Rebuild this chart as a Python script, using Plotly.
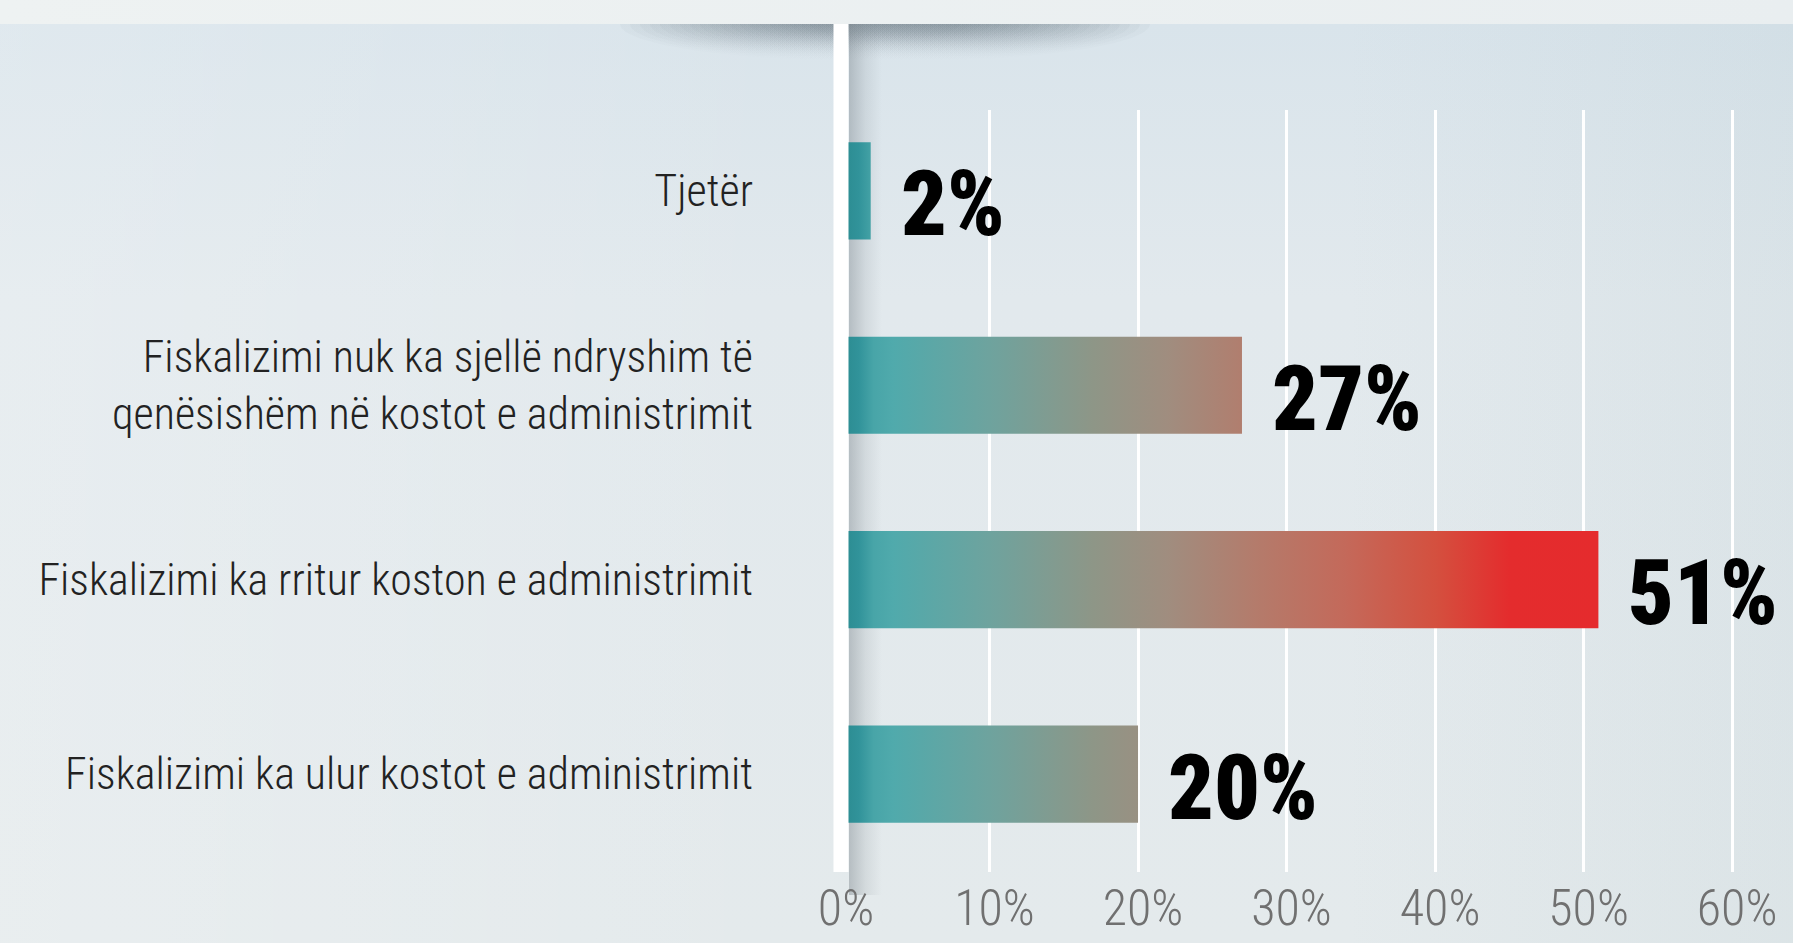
import numpy as np
import plotly.graph_objects as go

# ---- data ----
categories = [
    "Fiskalizimi ka ulur kostot e administrimit",
    "Fiskalizimi ka rritur koston e administrimit",
    "Fiskalizimi nuk ka sjellë ndryshim të<br>qenësishëm në kostot e administrimit",
    "Tjetër",
]
values = [20, 51, 27, 2]
value_labels = ["20%", "51%", "27%", "2%"]
tick_vals = [0, 10, 20, 30, 40, 50, 60]
tick_text = ["0%", "10%", "20%", "30%", "40%", "50%", "60%"]

# colour ramp along the value axis (absolute position, in %)
grad_stops = [0, 1.2, 2.2, 3.5, 10, 17, 22, 28, 34, 40, 45, 51]
grad_colors = ["#2a8a8f", "#31939a", "#48a5a8", "#50aaac", "#6ea39e", "#8e9687",
               "#a08d7f", "#b47b6b", "#c4695a", "#d4503f", "#e42c2d", "#e52b2d"]
grad_max = max(values)
colorscale = [[s / grad_max, c] for s, c in zip(grad_stops, grad_colors)]

BAR_HALF = 0.25
W, H = 1793, 943
FONT_LIGHT = "Roboto Condensed, Open Sans Condensed, sans-serif"

fig = go.Figure()

# ---------- decorative background (subplot x/y, pixel space) ----------
def bg_poly(xs, ys, grad):
    fig.add_trace(go.Scatter(x=list(xs), y=list(ys), xaxis="x", yaxis="y",
                             mode="lines", line=dict(width=0), fill="toself",
                             fillgradient=grad, hoverinfo="skip", showlegend=False))

# base vertical wash
bg_poly([0, W, W, 0, 0], [24, 24, H, H, 24],
        dict(type="vertical", start=24, stop=H,
             colorscale=[[0, "#d9e4eb"], [0.3, "#e2e9ed"], [1, "#e4eaec"]]))
# horizontal tint: lighter left, slightly darker right
bg_poly([0, W, W, 0, 0], [24, 24, H, H, 24],
        dict(type="horizontal", start=0, stop=W,
             colorscale=[[0, "rgba(255,255,255,0.18)"], [0.45, "rgba(255,255,255,0)"],
                         [0.75, "rgba(160,185,192,0)"], [1, "rgba(160,185,192,0.12)"]]))
# top strip
bg_poly([0, W, W, 0, 0], [0, 0, 24, 24, 0],
        dict(type="horizontal", start=0, stop=W,
             colorscale=[[0, "#eef2f2"], [1, "#e9eef0"]]))
# soft shadow under the strip (stacked half-ellipses)
t = np.linspace(0, np.pi, 80)
n_layers = 20
for k in range(n_layers):
    a = 265 - k * 10
    b = 38 - k * 1.2
    xs = 885 + a * np.cos(t)
    ys = 24 + b * np.sin(t)
    bg_poly(xs, ys, dict(type="vertical", start=24, stop=24 + b,
                         colorscale=[[0, "rgba(100,114,124,0.05)"], [1, "rgba(100,114,124,0)"]]))
# shadow to the right of the zero line
bg_poly([849, 882, 882, 849, 849], [24, 24, 895, 895, 24],
        dict(type="horizontal", start=849, stop=882,
             colorscale=[[0, "rgba(118,128,135,0.42)"], [0.5, "rgba(118,128,135,0.15)"],
                         [1, "rgba(118,128,135,0)"]]))

# ---------- data bars (subplot x2/y2) ----------
for i, v in enumerate(values):
    fig.add_trace(go.Scatter(
        x=[0, v, v, 0, 0],
        y=[i - BAR_HALF, i - BAR_HALF, i + BAR_HALF, i + BAR_HALF, i - BAR_HALF],
        xaxis="x2", yaxis="y2",
        mode="lines", line=dict(width=0), fill="toself",
        fillgradient=dict(type="horizontal", colorscale=colorscale, start=0, stop=grad_max),
        hoverinfo="skip", showlegend=False,
    ))
    fig.add_annotation(
        x=v, y=i, xref="x2", yref="y2", text=value_labels[i], showarrow=False,
        xanchor="left", yanchor="middle", xshift=28, yshift=-14,
        font=dict(family="Roboto Condensed, Open Sans Condensed, sans-serif",
                  size=90, color="#000000", weight=900),
    )

# thick white zero line
fig.add_shape(type="line", xref="x2", yref="paper", x0=0, x1=0,
              y0=(H - 872) / H, y1=(H - 24) / H,
              line=dict(color="#ffffff", width=15), layer="above")

fig.update_layout(
    width=W, height=H, autosize=False,
    margin=dict(l=0, r=0, t=0, b=0, autoexpand=False),
    paper_bgcolor="#e4ebee",
    plot_bgcolor="rgba(0,0,0,0)",
    showlegend=False,
    xaxis=dict(domain=[0, 1], range=[0, W], visible=False, fixedrange=True, automargin=False),
    yaxis=dict(domain=[0, 1], range=[H, 0], visible=False, fixedrange=True, automargin=False),
    xaxis2=dict(
        domain=[800 / W, 1753 / W], anchor="y2", automargin=False,
        range=[-2.761, 61.41],
        tickvals=tick_vals, ticktext=tick_text,
        showgrid=True, gridcolor="#ffffff", gridwidth=3,
        zeroline=False, showline=False, ticks="",
        ticklabelstandoff=2, ticklabelshift=5,
        tickfont=dict(family=FONT_LIGHT, size=50, color="#707070", weight=300),
        fixedrange=True,
    ),
    yaxis2=dict(
        domain=[(H - 872) / H, (H - 110) / H], anchor="x2", automargin=False,
        range=[-0.504, 3.416],
        tickvals=list(range(len(categories))), ticktext=categories,
        showgrid=False, zeroline=False, showline=False, ticks="",
        ticklabelstandoff=46,
        tickfont=dict(family=FONT_LIGHT, size=44, color="#222222", weight=300),
        fixedrange=True,
    ),
)

fig.write_html(
    "out.html",
    config={"responsive": False, "displayModeBar": False},
    post_script="document.body.style.margin='0px';document.body.style.overflow='hidden';",
)
